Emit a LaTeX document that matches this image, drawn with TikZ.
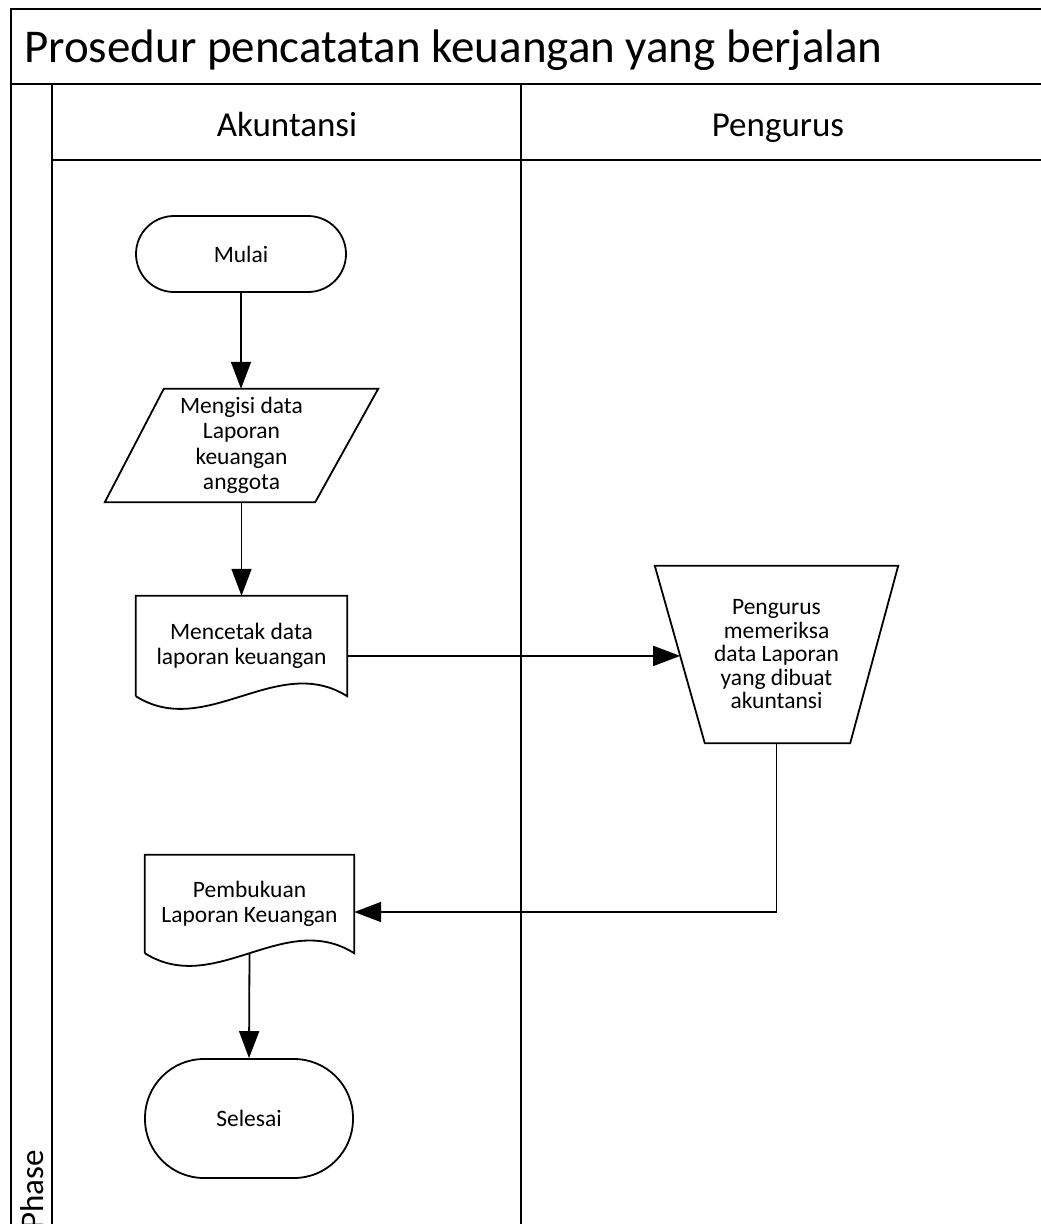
\documentclass[tikz,border=0pt]{standalone}
\usepackage{fontspec}
\setmainfont{Carlito}
\usetikzlibrary{arrows.meta,calc}
\begin{document}
\begin{tikzpicture}[x=1pt,y=-1pt,
  frame/.style={line width=2.4pt},
  conn/.style={line width=1.8pt,-{Triangle[length=27pt,width=20pt]}},
  outline/.style={line width=1.8pt, line join=miter},
  box/.style={inner sep=0pt, align=center, font=\fontsize{23.5}{25.5}\selectfont},
  term/.style={box, draw, line width=1.8pt},
]
\path[use as bounding box, clip] (0,0) rectangle (1041,1224);
% frame
\draw[frame] (11,1300) -- (11,9) -- (1100,9);
\draw[frame] (11,84) -- (1100,84);
\draw[frame] (52,84) -- (52,1300);
\draw[frame] (52,160) -- (1100,160);
\draw[frame] (521,84) -- (521,1300);
% texts
\node[anchor=base west, inner sep=0pt, font=\fontsize{47}{56}\selectfont] (title) at (24,62) {Prosedur pencatatan keuangan yang berjalan};
\node[anchor=base, inner sep=0pt, font=\fontsize{35}{42}\selectfont] (lane1) at (287,136) {Akuntansi};
\node[anchor=base, inner sep=0pt, font=\fontsize{35}{42}\selectfont] (lane2) at (778,136) {Pengurus};
\node[anchor=base west, rotate=90, inner sep=0pt, font=\fontsize{33}{40}\selectfont] (phase) at (43,1230) {Phase};
% shapes
\node[term, minimum width=210pt, minimum height=76pt, rounded corners=38pt] (mulai) at (241,254) {Mulai};
\node[box, minimum width=273pt, minimum height=113pt] (isi) at (241.5,445.5) {Mengisi data\\Laporan\\keuangan\\anggota};
\draw[outline] (isi.south west) -- ($(isi.north west)+(59,0)$) -- (isi.north east) -- ($(isi.south east)+(-63,0)$) -- cycle;
\node[box, minimum width=211pt, minimum height=100pt] (doc1) at (241.5,646) {Mencetak data\\laporan keuangan};
\draw[outline] (doc1.south west) -- (doc1.north west) -- (doc1.north east) -- (doc1.south east)
  .. controls ($(doc1.south east)+(-70,-44)$) and ($(doc1.south west)+(70,44)$) .. (doc1.south west);
\node[box, minimum width=243pt, minimum height=177pt, font=\fontsize{23.5}{23.5}\selectfont] (trap) at (776.5,654.5) {Pengurus\\memeriksa\\data Laporan\\yang dibuat\\akuntansi};
\coordinate (trapbl) at ($(trap.south west)+(50,0)$);
\draw[outline] (trap.north west) -- (trap.north east) -- ($(trap.south east)+(-48,0)$) -- (trapbl) -- cycle;
\coordinate (tl) at ($(trap.north west)!0.508!(trapbl)$);
\node[box, minimum width=209pt, minimum height=98pt] (doc2) at (249.5,904) {Pembukuan\\Laporan Keuangan};
\draw[outline] (doc2.south west) -- (doc2.north west) -- (doc2.north east) -- (doc2.south east)
  .. controls ($(doc2.south east)+(-70,-44)$) and ($(doc2.south west)+(70,44)$) .. (doc2.south west);
\node[term, minimum width=208pt, minimum height=119pt, rounded corners=59pt] (selesai) at (249,1118.5) {Selesai};
% connectors
\draw[conn] (mulai.south) -- (mulai.south |- isi.north);
\draw[conn] (isi.south -| doc1.north) -- (doc1.north);
\draw[conn] (doc1.east |- tl) -- (tl);
\draw[conn] (trap.south) |- ([yshift=-8pt]doc2.east);
\draw[conn] (doc2.south) -- (selesai.north);
\end{tikzpicture}
\end{document}
